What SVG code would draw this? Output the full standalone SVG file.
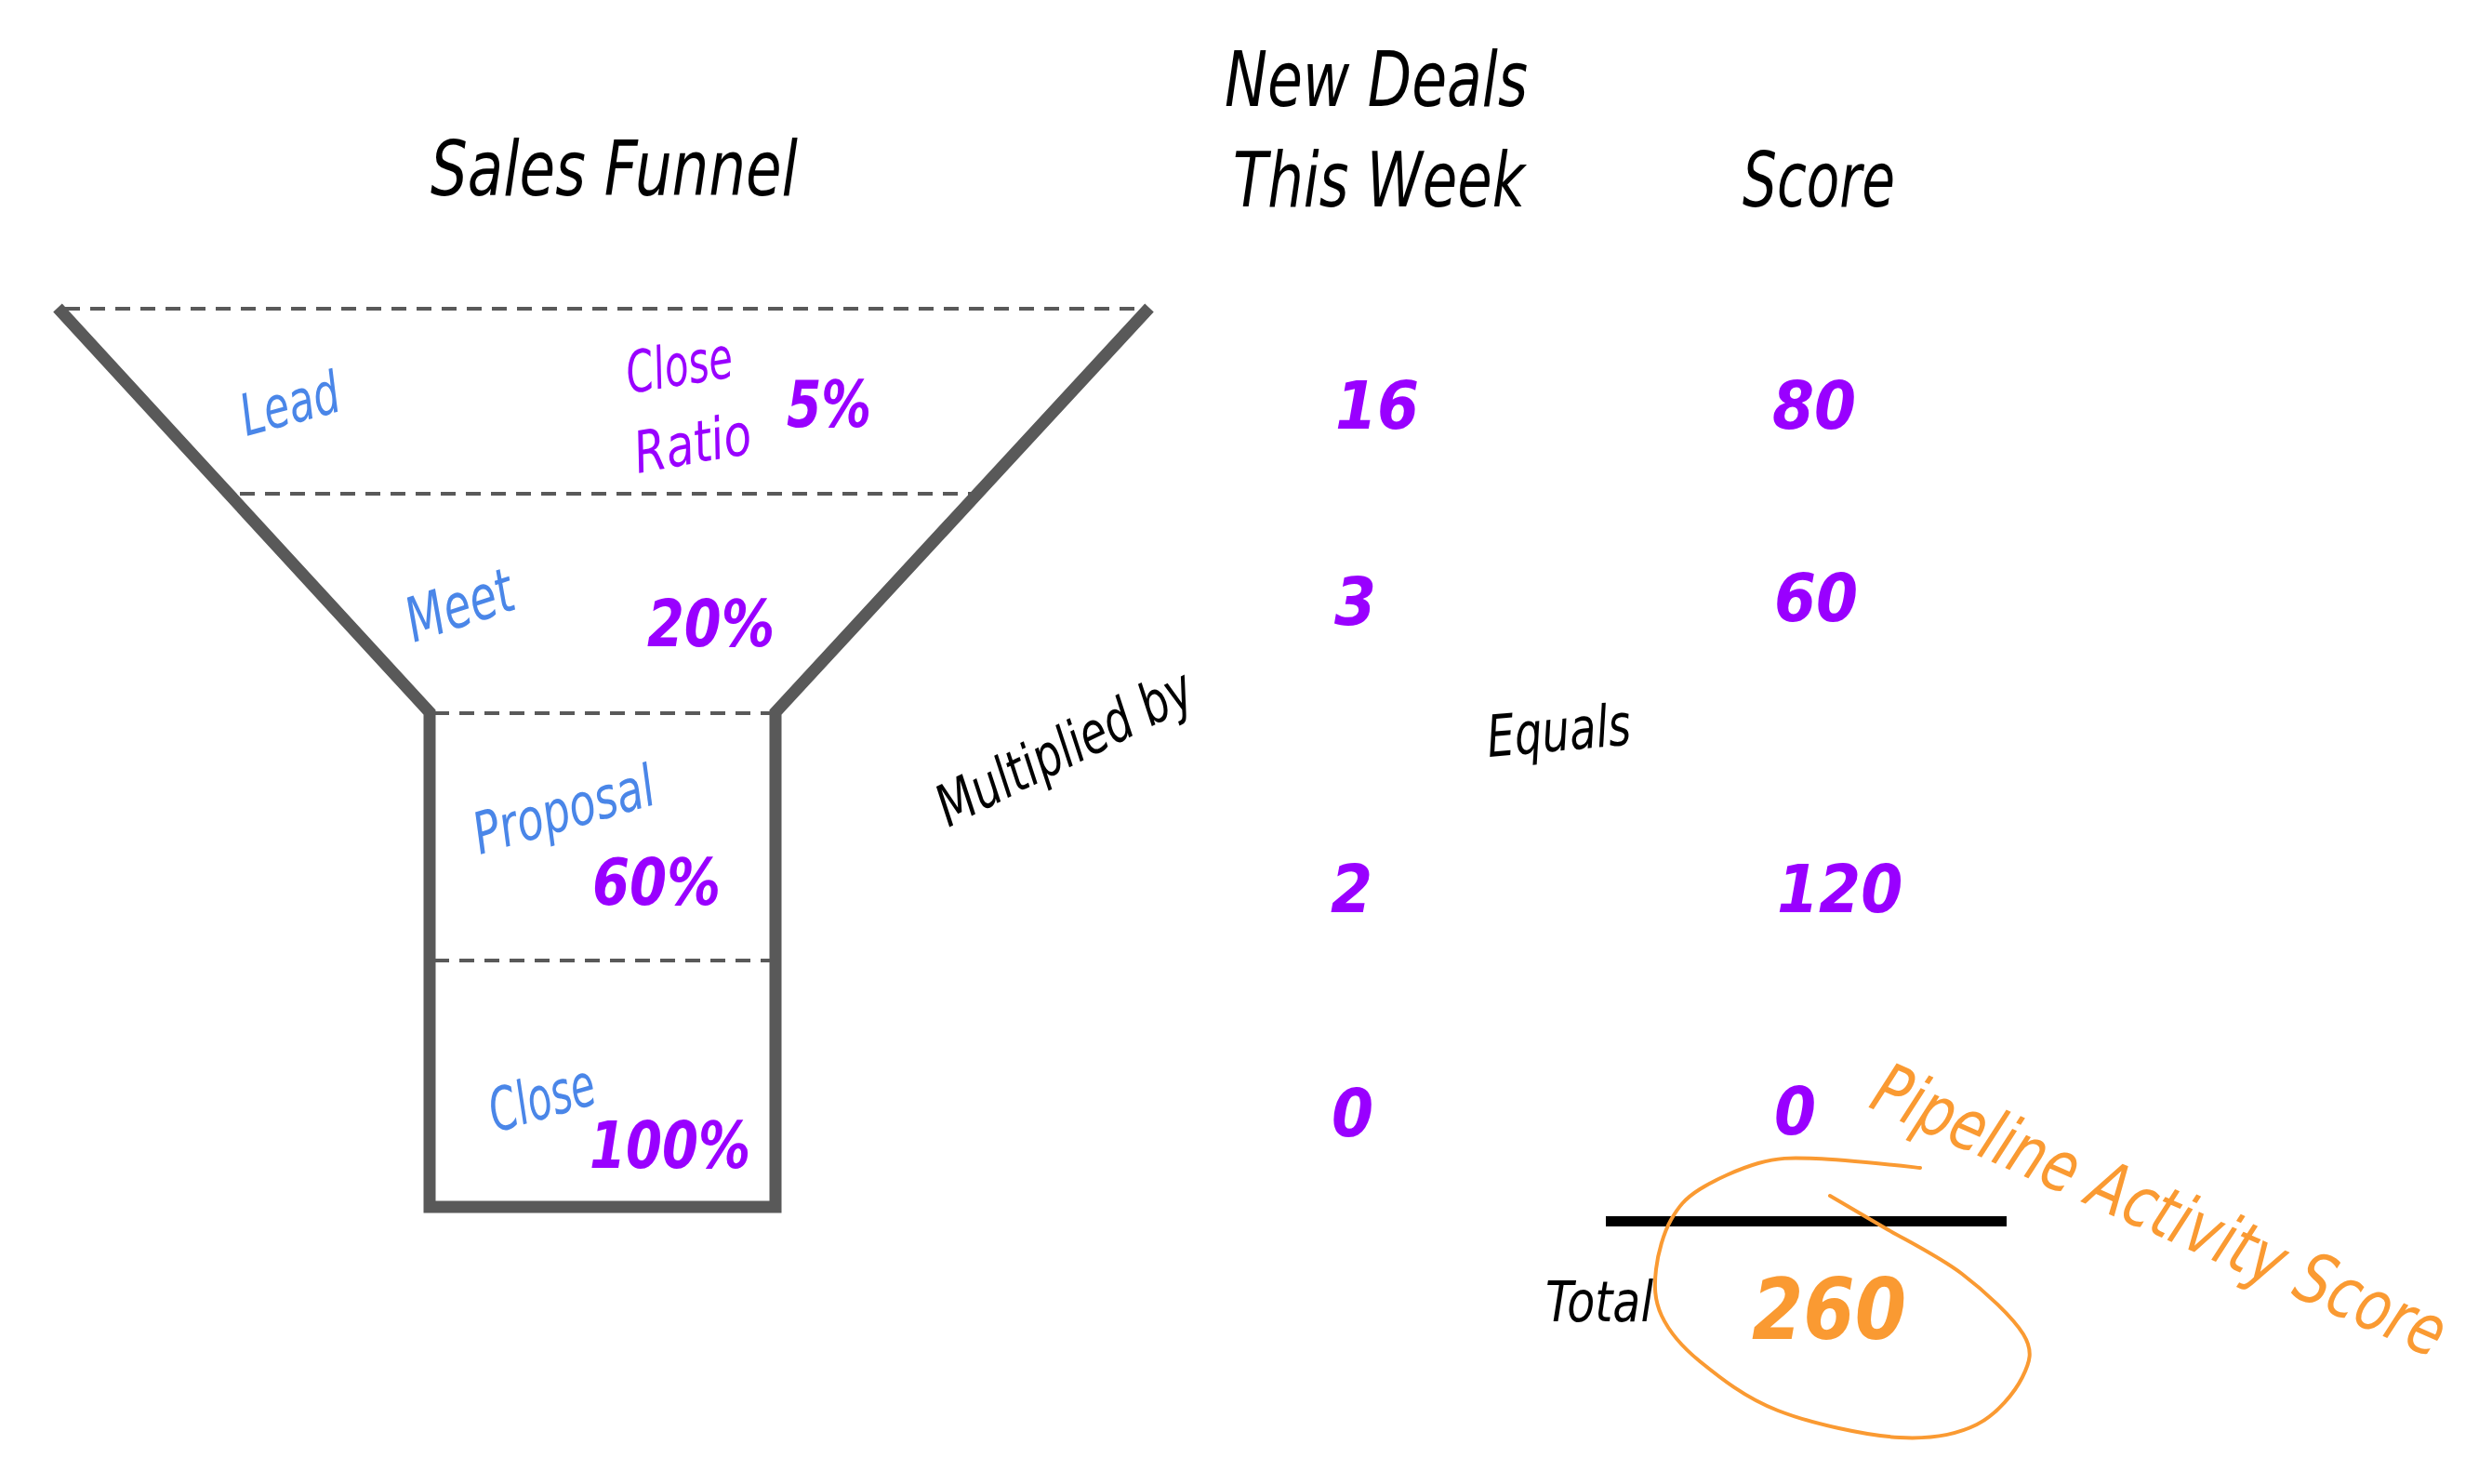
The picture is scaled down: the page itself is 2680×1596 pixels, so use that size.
<svg xmlns="http://www.w3.org/2000/svg" width="2680" height="1596" viewBox="0 0 2680 1596">
<style>
.hand{font-family:'Liberation Sans Narrow','DejaVu Sans Condensed','Liberation Sans',sans-serif;font-style:italic}
.title{font-size:82px;fill:#000}
.stage{font-size:62px;fill:#4a86e8}
.ratio{font-size:62px;fill:#9900ff}
.pct{font-size:70px;font-weight:bold;fill:#9900ff}
.num{font-size:72px;font-weight:bold;fill:#9900ff}
.note{font-size:62px;fill:#000}
.orange{fill:#fa9a32}
.funnel{fill:none;stroke:#595959;stroke-width:13;stroke-linejoin:miter}
.divider{stroke:#595959;stroke-width:4;stroke-dasharray:16 11;fill:none}
</style>
<rect width="2680" height="1596" fill="#fff"/>

<g id="headers">
<text class="hand title" x="463" y="210" textLength="395" lengthAdjust="spacingAndGlyphs">Sales Funnel</text>
<text class="hand title" x="1317" y="114" textLength="326" lengthAdjust="spacingAndGlyphs">New Deals</text>
<text class="hand title" x="1326" y="222" textLength="314" lengthAdjust="spacingAndGlyphs">This Week</text>
<text class="hand title" x="1874" y="222" textLength="164" lengthAdjust="spacingAndGlyphs">Score</text>
</g>

<g id="funnel">
<path class="funnel" d="M62,331 L462,766 L462,1298 L834,1298 L834,766 L1236,331"/>
<line class="divider" x1="70" y1="332" x2="1230" y2="332"/>
<line class="divider" x1="258" y1="531" x2="1062" y2="531"/>
<line class="divider" x1="467" y1="767" x2="830" y2="767"/>
<line class="divider" x1="467" y1="1033" x2="830" y2="1033"/>
</g>

<g id="stage-lead">
<text class="hand stage" transform="translate(265,469) rotate(-15)" textLength="108" lengthAdjust="spacingAndGlyphs">Lead</text>
<text class="hand ratio" transform="translate(677,423) rotate(-9)" textLength="115" lengthAdjust="spacingAndGlyphs">Close</text>
<text class="hand ratio" transform="translate(686,509) rotate(-10)" textLength="127" lengthAdjust="spacingAndGlyphs">Ratio</text>
<text class="hand pct" x="846" y="459" textLength="91" lengthAdjust="spacingAndGlyphs">5%</text>
</g>

<g id="stage-meet">
<text class="hand stage" style="font-size:66px" transform="translate(445,691) rotate(-18)" textLength="118" lengthAdjust="spacingAndGlyphs">Meet</text>
<text class="hand pct" x="696" y="695" textLength="137" lengthAdjust="spacingAndGlyphs">20%</text>
</g>

<g id="stage-proposal">
<text class="hand stage" transform="translate(516,919) rotate(-16)" textLength="200" lengthAdjust="spacingAndGlyphs">Proposal</text>
<text class="hand pct" x="637" y="973" textLength="138" lengthAdjust="spacingAndGlyphs">60%</text>
</g>

<g id="stage-close">
<text class="hand stage" style="font-size:64px" transform="translate(533,1218) rotate(-16)" textLength="116" lengthAdjust="spacingAndGlyphs">Close</text>
<text class="hand pct" x="634" y="1256" textLength="173" lengthAdjust="spacingAndGlyphs">100%</text>
</g>

<g id="operators">
<text class="hand note" transform="translate(1020,890) rotate(-26.5)" textLength="300" lengthAdjust="spacingAndGlyphs">Multiplied by</text>
<text class="hand note" transform="translate(1601,814) rotate(-5)" textLength="155" lengthAdjust="spacingAndGlyphs">Equals</text>
</g>

<g id="deals-column">
<text class="hand num" x="1436" y="461">16</text>
<text class="hand num" x="1435" y="672">3</text>
<text class="hand num" x="1431" y="981">2</text>
<text class="hand num" x="1432" y="1222">0</text>
</g>

<g id="score-column">
<text class="hand num" x="1906" y="461">80</text>
<text class="hand num" x="1908" y="668">60</text>
<text class="hand num" x="1911" y="981">120</text>
<text class="hand num" x="1908" y="1220">0</text>
</g>

<g id="total">
<line x1="1727" y1="1313.5" x2="2158" y2="1313.5" stroke="#000" stroke-width="11"/>
<text class="hand note" style="font-size:60px" x="1662" y="1421" textLength="116" lengthAdjust="spacingAndGlyphs">Total</text>
<text class="hand orange" style="font-size:90px;font-weight:bold" x="1884" y="1440" textLength="166" lengthAdjust="spacingAndGlyphs">260</text>
</g>

<g id="callout">
<path fill="none" stroke="#fa9a32" stroke-width="4" stroke-linecap="round" d="M2065,1256 C2046,1254 1982,1247 1953,1246 C1924,1245 1912,1245 1891,1251 C1870,1257 1844,1269 1828,1279 C1812,1289 1805,1298 1797,1312 C1789,1326 1783,1348 1781,1365 C1779,1382 1779,1398 1787,1415 C1795,1432 1807,1447 1828,1464 C1849,1481 1876,1503 1912,1517 C1948,1531 2007,1544 2043,1546 C2079,1548 2104,1543 2126,1532 C2148,1521 2167,1497 2175,1481 C2183,1465 2187,1453 2176,1435 C2165,1417 2135,1389 2110,1370 C2085,1351 2050,1334 2026,1320 C2002,1306 1978,1292 1968,1286"/>
<text class="hand orange" style="font-size:76px" transform="translate(2008,1190) rotate(24)" textLength="666" lengthAdjust="spacingAndGlyphs">Pipeline Activity Score</text>
</g>
</svg>
